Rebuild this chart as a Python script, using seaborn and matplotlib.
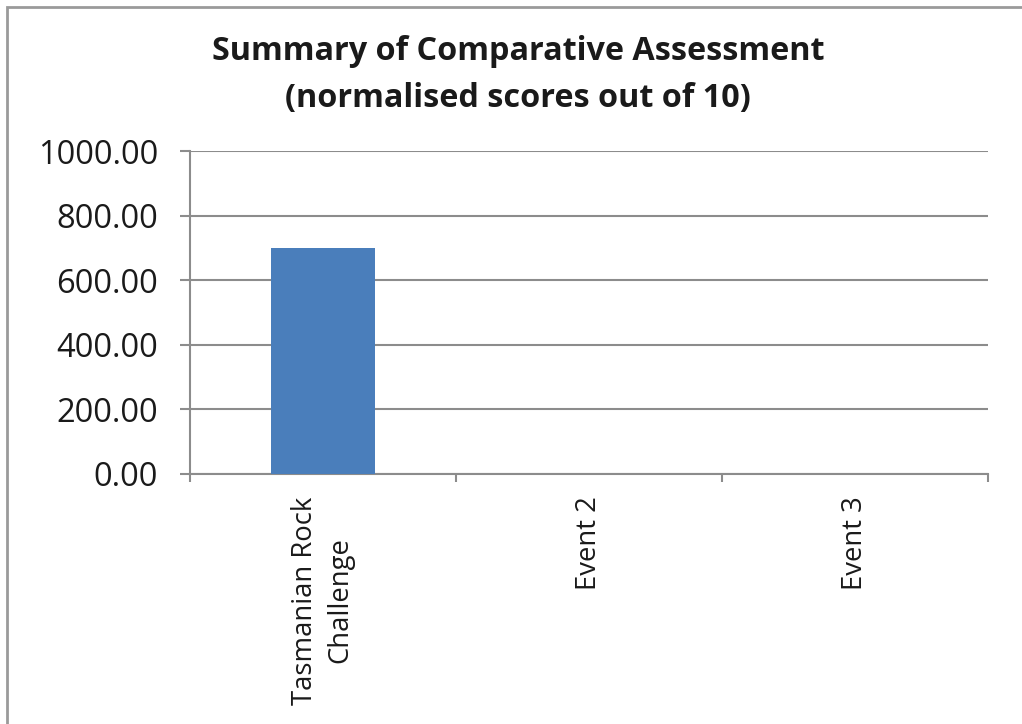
import matplotlib
matplotlib.use("Agg")
import matplotlib.pyplot as plt
import seaborn as sns
import pandas as pd
from matplotlib.patches import Rectangle
from matplotlib.ticker import FixedLocator, FuncFormatter

categories = ["Tasmanian Rock\nChallenge", "Event 2", "Event 3"]
scores = [700.0, 0.0, 0.0]
y_ticks = [0, 200, 400, 600, 800, 1000]
title_lines = ["Summary of Comparative Assessment", "(normalised scores out of 10)"]

sns.set_theme(style="white")
plt.rcParams["font.family"] = ["Open Sans", "DejaVu Sans"]

df = pd.DataFrame({"event": categories, "score": scores})

fig = plt.figure(figsize=(10.22, 7.24), dpi=100)
ax = fig.add_axes([190/1022, 1-474/724, (988-190)/1022, (474-151)/724])

sns.barplot(data=df, x="event", y="score", color="#4a7ebb", width=0.39,
            saturation=1, linewidth=0, ax=ax, zorder=3)

grid_c = "#8c8c8c"
ax.set_ylim(0, 1000)
ax.set_xlim(-0.5, len(categories) - 0.5)
ax.set_yticks(y_ticks)
ax.yaxis.set_major_formatter(FuncFormatter(lambda v, p: f"{v:.2f}"))
ax.grid(axis="y", color=grid_c, linewidth=1.5, zorder=0)
ax.set_axisbelow(True)
for s in ["top", "right"]:
    ax.spines[s].set_visible(False)
for s in ["left", "bottom"]:
    ax.spines[s].set_color(grid_c)
    ax.spines[s].set_linewidth(1.5)

ax.tick_params(axis="y", which="major", left=True, length=7, width=1.5,
               color=grid_c, pad=16, labelsize=23.5, labelcolor="#1a1a1a")
ax.tick_params(axis="x", which="major", bottom=False, length=0, pad=16,
               labelsize=19.8, labelcolor="#1a1a1a")
ax.xaxis.set_minor_locator(FixedLocator([-0.5, 0.5, 1.5, 2.5]))
ax.tick_params(axis="x", which="minor", bottom=True, length=6, width=1.5,
               color=grid_c)
for lbl in ax.get_xticklabels():
    lbl.set_rotation(90)
    lbl.set_ha("center")
    lbl.set_va("top")
    lbl.set_multialignment("center")
    lbl.set_linespacing(1.35)
ax.set_xlabel("")
ax.set_ylabel("")

fig.text(0.507, 1-52/724, title_lines[0], ha="center", va="center",
         fontsize=23.3, fontweight="bold", color="#1a1a1a")
fig.text(0.507, 1-98/724, title_lines[1], ha="center", va="center",
         fontsize=23.3, fontweight="bold", color="#1a1a1a")

fig.patches.append(Rectangle((7/1022, -0.05), 1.1, 1-7/724 + 0.05,
                             transform=fig.transFigure, fill=False,
                             edgecolor="#9a9a9a", linewidth=2))

fig.savefig("out.png", dpi=100)
